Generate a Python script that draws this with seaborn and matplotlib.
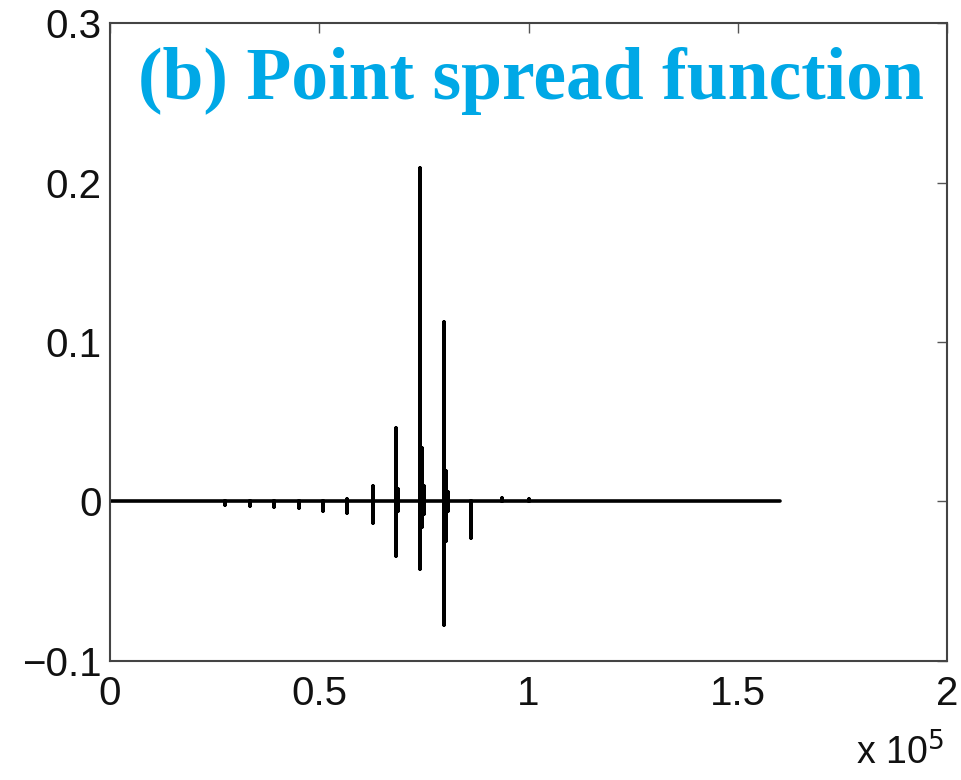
import matplotlib
matplotlib.use("Agg")
import matplotlib.pyplot as plt
import seaborn as sns
import pandas as pd

# spike positions (samples) with positive / negative excursions
spike_x = [27500, 33450, 39260, 45200, 50950, 56540, 62900, 68260, 68700,
           74070, 74550, 75100, 79800, 80250, 80700, 86200, 93700, 100100]
spike_hi = [0.0, 0.0, 0.0, 0.0, 0.0, 0.0015, 0.0094, 0.0461, 0.008,
            0.2089, 0.0335, 0.010, 0.1124, 0.019, 0.006, 0.0, 0.002, 0.0015]
spike_lo = [-0.002, -0.003, -0.0035, -0.0042, -0.0057, -0.007, -0.0136, -0.0341, -0.006,
            -0.0423, -0.0157, -0.008, -0.0774, -0.025, -0.006, -0.023, 0.0, 0.0]
x_end = 160000

xticks = [0, 50000, 100000, 150000, 200000]
xtick_labels = ["0", "0.5", "1", "1.5", "2"]
yticks = [-0.1, 0, 0.1, 0.2, 0.3]
ytick_labels = ["\u22120.1", "0", "0.1", "0.2", "0.3"]

# trace the signal as a single polyline
xs, ys = [0], [0.0]
for x, hi, lo in zip(spike_x, spike_hi, spike_lo):
    xs += [x, x, x, x]
    ys += [0.0, hi, lo, 0.0]
xs.append(x_end)
ys.append(0.0)
df = pd.DataFrame({"sample": xs, "psf": ys})

sns.set_style("white")
plt.rcParams["font.family"] = ["Liberation Sans", "DejaVu Sans"]

fig = plt.figure(figsize=(9.61, 7.8), dpi=100)
ax = fig.add_axes([0.1145, 0.1526, 0.8709, 0.8179])
sns.lineplot(data=df, x="sample", y="psf", sort=False, estimator=None,
             color="black", linewidth=2.6, ax=ax)

ax.set_xlim(0, 200000)
ax.set_ylim(-0.1, 0.3)
ax.set_xticks(xticks)
ax.set_xticklabels(xtick_labels)
ax.set_yticks(yticks)
ax.set_yticklabels(ytick_labels)
ax.set_xlabel("")
ax.set_ylabel("")
ax.tick_params(direction="in", length=7, width=1, colors="#555555",
               top=True, right=True, labelsize=29, labelcolor="#111111")
ax.tick_params(axis="x", pad=10)
ax.tick_params(axis="y", pad=6)
for s in ax.spines.values():
    s.set_color("#444444")
    s.set_linewidth(1.5)

ax.text(0.503, 0.963, "(b) Point spread function", transform=ax.transAxes,
        ha="center", va="top", fontsize=53, fontweight="bold",
        family="Liberation Serif", color="#00A8E6")
fig.text(0.982, 0.01, r"x 10$^{5}$", ha="right", va="bottom",
         fontsize=27, color="#111111")

fig.savefig("out.png", dpi=100)
